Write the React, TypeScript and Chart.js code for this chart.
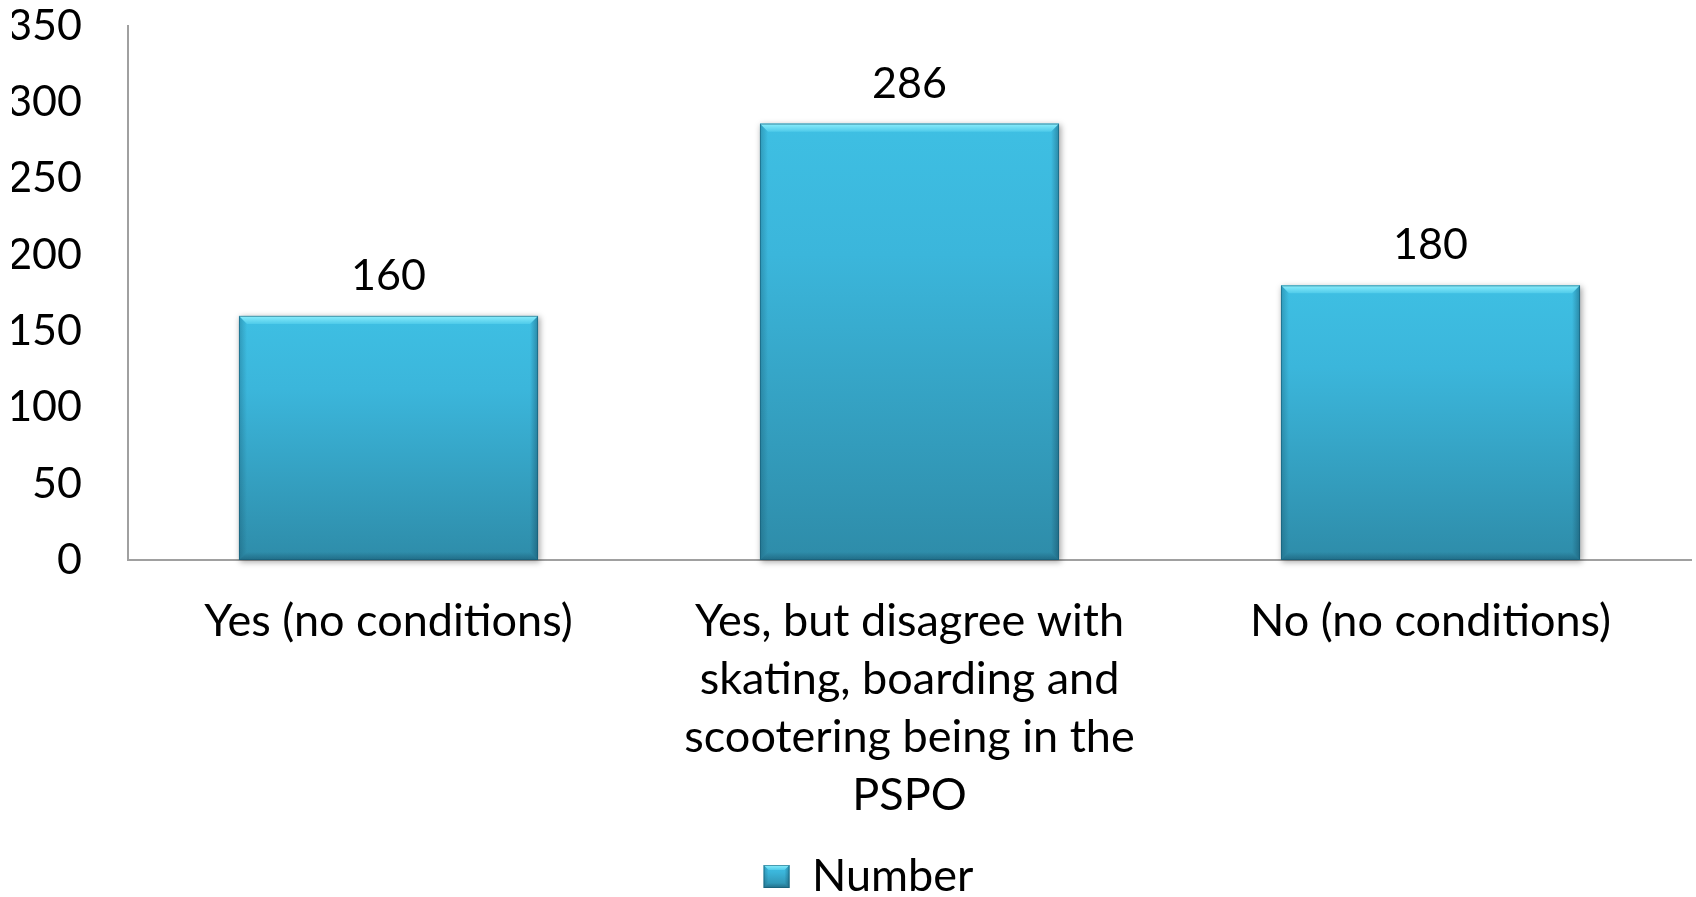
import React, { useEffect, useRef } from "react";
import { Chart, registerables } from "chart.js";

Chart.register(...registerables);

// ---- data ----
const categories: string[][] = [
  ["Yes (no conditions)"],
  ["Yes, but disagree with", "skating, boarding and", "scootering being in the", "PSPO"],
  ["No (no conditions)"],
];
const values: number[] = [160, 286, 180];
const seriesName = "Number";
const yMin = 0;
const yMax = 350;
const yStep = 50;

const FONT_FAMILY = "Lato, 'Open Sans', 'DejaVu Sans', sans-serif";
const NUM_SIZE = 43;
const TEXT_SIZE = 45;

function poly(ctx: CanvasRenderingContext2D, pts: number[][], fill: any) {
  ctx.beginPath();
  ctx.moveTo(pts[0][0], pts[0][1]);
  for (let i = 1; i < pts.length; i++) ctx.lineTo(pts[i][0], pts[i][1]);
  ctx.closePath();
  ctx.fillStyle = fill;
  ctx.fill();
}

function drawBevelRect(
  ctx: CanvasRenderingContext2D,
  L: number,
  T: number,
  R: number,
  B: number,
  bevel: number,
  shadow: boolean
) {
  const w = R - L;
  const h = B - T;
  const b = Math.min(bevel, w / 2, h / 2);
  ctx.save();
  if (shadow) {
    ctx.shadowColor = "rgba(0,0,0,0.35)";
    ctx.shadowBlur = 6;
    ctx.shadowOffsetX = 1.5;
    ctx.shadowOffsetY = 1.5;
  }
  const g = ctx.createLinearGradient(0, T, 0, B);
  g.addColorStop(0, "#3EBFE3");
  g.addColorStop(0.3, "#3BB6DB");
  g.addColorStop(1, "#2E8CA9");
  ctx.fillStyle = g;
  ctx.fillRect(L, T, w, h);
  ctx.restore();

  ctx.save();
  const gt = ctx.createLinearGradient(0, T, 0, T + b);
  gt.addColorStop(0, "#8CEEFC");
  gt.addColorStop(1, "#4FCBEA");
  poly(ctx, [[L, T], [R, T], [R - b, T + b], [L + b, T + b]], gt);
  const gl = ctx.createLinearGradient(L, 0, L + b, 0);
  gl.addColorStop(0, "rgba(10,60,80,0.28)");
  gl.addColorStop(1, "rgba(10,60,80,0)");
  poly(ctx, [[L, T], [L + b, T + b], [L + b, B - b], [L, B]], gl);
  const gr = ctx.createLinearGradient(R - b, 0, R, 0);
  gr.addColorStop(0, "rgba(10,50,70,0)");
  gr.addColorStop(1, "rgba(10,50,70,0.38)");
  poly(ctx, [[R, T], [R, B], [R - b, B - b], [R - b, T + b]], gr);
  const gb = ctx.createLinearGradient(0, B - b, 0, B);
  gb.addColorStop(0, "rgba(10,50,70,0)");
  gb.addColorStop(1, "rgba(10,50,70,0.35)");
  poly(ctx, [[L, B], [L + b, B - b], [R - b, B - b], [R, B]], gb);
  ctx.strokeStyle = "rgba(20,90,115,0.55)";
  ctx.lineWidth = 1;
  ctx.strokeRect(L + 0.5, T + 0.5, w - 1, h - 1);
  ctx.restore();
}

const LEGEND_SHIFT = 17;

const bevelBarsPlugin = {
  id: "bevelBars",
  afterLayout(chart: any) {
    const legend = chart.legend;
    if (legend) {
      legend.left += LEGEND_SHIFT;
      legend.right += LEGEND_SHIFT;
    }
  },
  afterDatasetsDraw(chart: any) {
    const ctx = chart.ctx as CanvasRenderingContext2D;
    const meta = chart.getDatasetMeta(0);
    meta.data.forEach((el: any) => {
      const props = el.getProps(["x", "y", "base", "width"], true);
      const L = props.x - props.width / 2;
      const R = props.x + props.width / 2;
      const T = Math.min(props.y, props.base);
      const B = Math.max(props.y, props.base);
      drawBevelRect(ctx, L, T, R, B, 8, true);
    });
    ctx.save();
    ctx.font = `${NUM_SIZE}px ${FONT_FAMILY}`;
    ctx.fillStyle = "#000000";
    ctx.textAlign = "center";
    ctx.textBaseline = "alphabetic";
    const ds = chart.data.datasets[0];
    meta.data.forEach((el: any, i: number) => {
      const props = el.getProps(["x", "y"], true);
      ctx.fillText(String(ds.data[i]), props.x, props.y - 26);
    });
    ctx.restore();
  },
  afterDraw(chart: any) {
    const legend = chart.legend;
    const ctx = chart.ctx as CanvasRenderingContext2D;
    if (legend && legend.legendHitBoxes && legend.legendHitBoxes.length) {
      const hb = legend.legendHitBoxes[0];
      const bw = legend.options.labels.boxWidth;
      const bh = legend.options.labels.boxHeight;
      const cy = hb.top + hb.height / 2;
      ctx.save();
      ctx.fillStyle = "#ffffff";
      ctx.fillRect(hb.left - 1, cy - bh / 2 - 1, bw + 2, bh + 2);
      ctx.restore();
      drawBevelRect(ctx, hb.left, cy - bh / 2, hb.left + bw, cy + bh / 2, 5, false);
    }
  },
};

export default function App() {
  const canvasRef = useRef<HTMLCanvasElement | null>(null);

  useEffect(() => {
    let chart: Chart | null = null;
    let cancelled = false;
    const build = () => {
      if (cancelled || !canvasRef.current) return;
      chart = new Chart(canvasRef.current, {
        type: "bar",
        data: {
          labels: categories,
          datasets: [
            {
              label: seriesName,
              data: values,
              backgroundColor: "#36A9CE",
              borderWidth: 0,
              categoryPercentage: 1,
              barPercentage: 0.574,
            },
          ],
        },
        options: {
          responsive: false,
          animation: false,
          layout: { padding: { left: 12, right: 5, top: 0, bottom: -12 } },
          plugins: {
            tooltip: { enabled: false },
            legend: {
              display: true,
              position: "bottom",
              labels: {
                boxWidth: 26,
                boxHeight: 23,
                color: "#000000",
                padding: 10,
                font: { family: FONT_FAMILY, size: TEXT_SIZE },
              },
            },
          },
          scales: {
            x: {
              grid: { display: false, drawTicks: false },
              border: { display: true, color: "#A0A0A0", width: 2 },
              ticks: {
                color: "#000000",
                padding: 32,
                maxRotation: 0,
                autoSkip: false,
                font: { family: FONT_FAMILY, size: TEXT_SIZE, lineHeight: 1.295 },
              },
              afterFit: (scale: any) => {
                scale.height = 284;
              },
            },
            y: {
              min: yMin,
              max: yMax,
              grid: { display: false, drawTicks: false },
              border: { display: true, color: "#A0A0A0", width: 2 },
              ticks: {
                stepSize: yStep,
                color: "#000000",
                padding: 46,
                font: { family: FONT_FAMILY, size: NUM_SIZE },
              },
              afterFit: (scale: any) => {
                scale.width = 116;
                scale.paddingTop = 26;
                scale.paddingBottom = 0;
              },
            },
          },
        },
        plugins: [bevelBarsPlugin],
      });
    };
    const fontsReady = (document as any).fonts
      ? (document as any).fonts.load(`${TEXT_SIZE}px Lato`).catch(() => null)
      : Promise.resolve();
    Promise.resolve(fontsReady).then(build);
    return () => {
      cancelled = true;
      if (chart) chart.destroy();
    };
  }, []);

  return (
    <div
      style={{
        position: "fixed",
        left: 0,
        top: 0,
        width: 1696,
        height: 897,
        background: "#ffffff",
      }}
    >
      <canvas ref={canvasRef} width={1696} height={897} style={{ display: "block" }} />
    </div>
  );
}
